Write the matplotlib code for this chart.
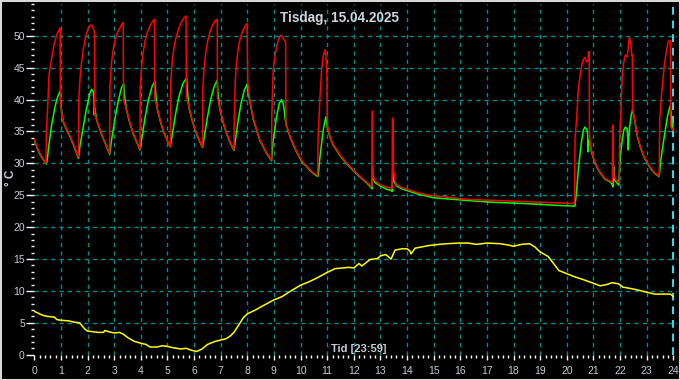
import matplotlib
matplotlib.use("Agg")
import matplotlib.pyplot as plt
from matplotlib.patches import Rectangle
from matplotlib.ticker import MultipleLocator

plt.rcParams['font.family'] = ['Liberation Sans', 'DejaVu Sans']

title = "Tisdag, 15.04.2025"
xlabel_text = "Tid [23:59]"
ylabel_text = "° C"
x_ticks = list(range(0, 25))
y_ticks = list(range(0, 55, 5))

# Red series (hours, °C)
red_t = [0, 0.1, 0.2, 0.3, 0.44,
         0.45, 0.52, 0.55, 0.62, 0.68, 0.74, 0.84, 0.94, 0.97, 0.98,
         1.03, 1.09, 1.22, 1.34, 1.47, 1.59, 1.66,
         1.67, 1.72, 1.77, 1.84, 1.90, 1.96, 2.06, 2.15, 2.21, 2.26, 2.27,
         2.34, 2.47, 2.59, 2.72, 2.83,
         2.84, 2.90, 2.96, 3.02, 3.11, 3.21, 3.31, 3.34, 3.35,
         3.46, 3.59, 3.71, 3.84, 3.97,
         3.98, 4.04, 4.10, 4.16, 4.25, 4.35, 4.45, 4.51, 4.52,
         4.62, 4.74, 4.86, 4.99, 5.11,
         5.12, 5.18, 5.25, 5.32, 5.42, 5.52, 5.62, 5.70, 5.71,
         5.81, 5.93, 6.05, 6.18, 6.32,
         6.33, 6.39, 6.45, 6.52, 6.61, 6.71, 6.80, 6.87, 6.88,
         6.98, 7.10, 7.22, 7.35, 7.50,
         7.51, 7.55, 7.60, 7.67, 7.75, 7.85, 7.95, 7.99, 8.02,
         8.10, 8.22, 8.35, 8.47, 8.60, 8.72, 8.85, 8.91,
         8.92, 8.97, 9.03, 9.10, 9.16, 9.25, 9.33, 9.39, 9.44, 9.45,
         9.48, 9.60, 9.73, 9.85, 9.98, 10.10, 10.23, 10.35, 10.48, 10.64,
         10.66, 10.73, 10.79, 10.85, 10.91, 10.95, 10.99, 11.0, 11.01,
         11.1, 11.22, 11.35, 11.47, 11.72, 11.97, 12.22, 12.47, 12.66,
         12.68, 12.69, 12.70, 12.71, 12.73, 12.79, 12.97, 13.2, 13.43,
         13.44, 13.45, 13.46, 13.48, 13.49, 13.55, 13.6, 13.8, 14.1, 14.4, 14.7,
         15.0, 15.3, 15.9, 16.5, 17.2, 18.4, 19.7, 20.29,
         20.30, 20.31, 20.37, 20.43, 20.50, 20.56, 20.62, 20.68, 20.75, 20.80,
         20.81, 20.84, 20.85, 20.88,
         20.94, 21.06, 21.19, 21.31, 21.44, 21.63, 21.71,
         21.72, 21.74, 21.75, 21.77, 21.83, 21.95, 21.97,
         21.98, 22.04, 22.08, 22.14, 22.20, 22.27, 22.31, 22.35, 22.38, 22.40,
         22.44, 22.46, 22.47,
         22.53, 22.65, 22.78, 22.90, 23.03, 23.15, 23.28, 23.47,
         23.49, 23.55, 23.62, 23.68, 23.75, 23.81, 23.87, 23.89, 23.90, 23.97, 24.0]
red_v = [33.8, 32.6, 31.6, 30.9, 30.0,
         34.4, 40.4, 43.8, 45.7, 47.2, 48.6, 50.1, 51.0, 51.2, 39.8,
         37.9, 36.6, 35.3, 34.3, 33.0, 31.7, 31.0,
         39.9, 43.5, 45.7, 47.8, 49.3, 50.4, 51.5, 51.7, 51.2, 50.6, 37.7,
         36.9, 35.3, 34.0, 32.7, 31.5,
         42.0, 45.7, 47.8, 49.0, 50.4, 51.2, 52.0, 52.1, 40.0,
         38.5, 36.4, 34.8, 33.5, 32.2,
         42.0, 45.6, 47.7, 49.2, 50.6, 51.6, 52.3, 52.6, 40.3,
         38.6, 36.6, 35.0, 33.6, 32.6,
         42.5, 46.0, 48.2, 49.7, 51.1, 52.1, 52.8, 53.1, 40.5,
         38.8, 36.8, 35.2, 33.8, 32.6,
         42.0, 45.6, 47.7, 49.3, 50.8, 51.8, 52.4, 52.6, 40.3,
         38.4, 36.4, 34.8, 33.4, 32.1,
         37.6, 43.0, 46.0, 48.3, 49.9, 51.0, 51.7, 51.9, 42.5,
         39.8, 37.1, 35.3, 33.7, 32.7, 31.7, 30.9, 30.5,
         37.3, 44.6, 46.5, 48.3, 49.3, 50.1, 49.8, 49.3, 49.0, 35.9,
         35.9, 34.3, 33.0, 31.9, 30.9, 30.1, 29.6, 29.0, 28.5, 28.1,
         34.2, 40.4, 44.6, 46.8, 47.8, 47.0, 44.0, 38.9, 36.0,
         34.3, 33.0, 32.2, 31.4, 30.1, 29.0, 28.0, 27.1, 26.4,
         26.4, 35.0, 38.2, 30.0, 28.0, 27.3, 26.7, 26.3, 26.1,
         26.1, 37.1, 37.1, 36.3, 29.0, 27.2, 26.7, 26.2, 25.8, 25.4, 25.1,
         24.9, 24.8, 24.5, 24.3, 24.2, 24.0, 23.8, 23.7,
         28.0, 33.9, 37.1, 41.5, 43.8, 45.4, 46.3, 46.6, 45.9, 46.0,
         47.5, 47.5, 35.0, 33.0,
         31.8, 30.1, 29.0, 28.3, 27.6, 27.2, 27.0,
         36.0, 36.0, 29.5, 28.0, 27.5, 27.0, 27.0,
         33.1, 38.9, 43.6, 45.9, 47.0, 46.7, 48.3, 49.9, 48.8, 49.1,
         47.0, 47.0, 38.4,
         37.4, 34.3, 32.4, 31.1, 30.1, 29.3, 28.6, 28.0,
         36.8, 40.4, 43.6, 45.9, 47.8, 49.1, 49.3, 49.0, 35.8, 35.2, 35.5]

# Green series (hours, °C)
green_t = [0, 0.1, 0.2, 0.3, 0.46, 0.50, 0.53, 0.59, 0.65, 0.72, 0.78, 0.84, 0.90, 0.97, 0.99,
           1.03, 1.09, 1.22, 1.34, 1.47, 1.59, 1.66,
           1.71, 1.84, 1.96, 2.09, 2.15, 2.21, 2.24, 2.25, 2.27, 2.34, 2.47, 2.59, 2.72, 2.83,
           2.90, 3.02, 3.15, 3.27, 3.36, 3.38, 3.46, 3.59, 3.71, 3.84, 3.97,
           4.04, 4.16, 4.29, 4.42, 4.53, 4.56, 4.62, 4.74, 4.86, 4.99, 5.11,
           5.18, 5.30, 5.43, 5.58, 5.72, 5.75, 5.81, 5.93, 6.05, 6.18, 6.32,
           6.39, 6.51, 6.63, 6.76, 6.87, 6.90, 6.98, 7.10, 7.22, 7.35, 7.50,
           7.56, 7.66, 7.77, 7.89, 7.99, 8.03, 8.10, 8.22, 8.35, 8.47, 8.60, 8.72, 8.85, 8.91,
           8.97, 9.10, 9.20, 9.29, 9.35, 9.40, 9.42, 9.45, 9.48, 9.60, 9.73, 9.85, 9.98,
           10.10, 10.23, 10.35, 10.48, 10.63,
           10.66, 10.73, 10.85, 10.95, 11.0, 11.1, 11.22, 11.35, 11.47, 11.72, 11.97, 12.22,
           12.47, 12.66,
           12.68, 12.70, 12.73, 12.79, 12.97, 13.2, 13.43,
           13.44, 13.46, 13.50, 13.6, 13.8, 14.1, 14.4, 14.7, 15.0, 15.3, 15.9, 16.5, 17.2,
           18.4, 19.7, 20.29,
           20.31, 20.37, 20.43, 20.50, 20.56, 20.62, 20.68, 20.75, 20.78, 20.80, 20.82, 20.86,
           20.94, 21.06, 21.19, 21.31, 21.44, 21.63, 21.72, 21.74, 21.76, 21.78, 21.83, 21.95,
           22.01, 22.08, 22.14, 22.20, 22.27, 22.30, 22.31, 22.33, 22.36, 22.42, 22.47, 22.53,
           22.65, 22.78, 22.90, 23.03, 23.15, 23.28, 23.47,
           23.53, 23.66, 23.78, 23.87, 23.92, 23.94, 23.97, 24.0]
green_v = [33.6, 32.5, 31.5, 30.8, 29.9, 31.0, 32.3, 34.2, 36.0, 37.6, 38.9, 39.9, 40.7, 41.3, 40.0,
           37.8, 36.5, 35.2, 34.2, 32.9, 31.6, 30.8,
           32.6, 35.7, 38.6, 41.0, 41.6, 41.3, 40.5, 37.6, 38.8, 36.8, 35.2, 33.9, 32.6, 31.4,
           33.6, 36.8, 39.7, 41.8, 42.5, 41.0, 38.4, 36.3, 34.7, 33.4, 32.1,
           34.0, 37.2, 40.0, 42.0, 42.9, 41.0, 38.5, 36.5, 34.9, 33.6, 32.6,
           34.4, 37.6, 40.4, 42.5, 43.4, 41.5, 38.7, 36.7, 35.1, 33.7, 32.5,
           34.3, 37.4, 40.1, 42.1, 43.0, 41.0, 38.3, 36.3, 34.7, 33.3, 32.0,
           33.8, 36.8, 39.5, 41.5, 42.4, 41.0, 39.7, 37.0, 35.2, 33.6, 32.6, 31.6, 30.8, 30.4,
           33.6, 37.3, 39.4, 40.0, 39.4, 38.0, 37.0, 36.5, 35.8, 34.2, 32.9, 31.8, 30.8,
           30.0, 29.5, 28.9, 28.4, 28.0,
           28.0, 31.0, 35.2, 37.3, 35.8, 34.2, 32.9, 32.1, 31.3, 30.0, 28.9, 27.9,
           27.0, 26.2,
           26.0, 29.2, 27.6, 27.0, 26.5, 26.0, 25.7,
           25.6, 28.6, 27.2, 26.5, 26.0, 25.6, 25.2, 24.9, 24.6, 24.5, 24.3, 24.1, 23.9,
           23.7, 23.4, 23.3,
           23.4, 25.8, 28.9, 31.6, 33.6, 35.2, 35.7, 35.3, 34.9, 31.8, 33.6, 33.3,
           31.6, 30.0, 28.9, 28.2, 27.5, 27.1, 26.6, 26.3, 29.5, 27.6, 27.2, 26.6,
           31.0, 33.6, 35.2, 35.7, 35.4, 33.0, 32.1, 34.0, 35.7, 37.6, 38.4, 37.3,
           34.2, 32.3, 31.0, 30.0, 29.2, 28.5, 27.9,
           30.5, 34.2, 37.3, 38.9, 38.0, 35.5, 36.5, 35.0]

# Yellow series: outdoor temperature (hours, °C)
out_t = [0, 0.1, 0.3, 0.5, 0.75, 0.85, 1.0, 1.3, 1.5, 1.7, 1.8, 1.9, 2.0, 2.2, 2.4, 2.6,
         2.65, 2.8, 3.0, 3.2, 3.35, 3.5, 3.75, 4.0, 4.2, 4.35, 4.6, 4.8, 5.0, 5.2, 5.5,
         5.7, 5.9, 6.1, 6.3, 6.5, 6.8, 7.0, 7.2, 7.35, 7.5, 7.7, 7.85, 8.0, 8.3, 8.6,
         9.0, 9.3, 9.6, 10.0, 10.3, 10.6, 11.0, 11.3, 11.6, 11.8, 12.0, 12.2, 12.3,
         12.6, 12.9, 13.0, 13.2, 13.4, 13.55, 13.8, 14.0, 14.1, 14.15, 14.3, 14.8,
         15.2, 15.5, 15.95, 16.3, 16.6, 17.0, 17.5, 17.8, 18.0, 18.3, 18.6, 18.8,
         19.0, 19.3, 19.5, 19.7, 20.0, 20.3, 20.6, 21.0, 21.25, 21.5, 21.7, 21.95,
         22.1, 22.5, 23.0, 23.3, 23.6, 23.9, 24.0]
out_v = [6.8, 6.6, 6.2, 6.0, 5.9, 5.5, 5.4, 5.3, 5.1, 5.0, 4.5, 4.0, 3.7, 3.6, 3.5, 3.5,
         3.8, 3.6, 3.4, 3.5, 3.2, 2.7, 2.1, 1.8, 1.6, 1.2, 1.2, 1.4, 1.3, 1.1, 0.9,
         1.0, 0.7, 0.5, 0.9, 1.6, 2.1, 2.3, 2.5, 2.9, 3.5, 4.8, 5.8, 6.4, 7.0, 7.7,
         8.6, 9.1, 9.9, 10.9, 11.4, 12.0, 12.9, 13.5, 13.6, 13.7, 13.6, 14.3, 13.9,
         14.9, 15.1, 15.5, 15.7, 15.0, 16.4, 16.6, 16.6, 16.3, 15.8, 16.7, 17.1,
         17.3, 17.4, 17.5, 17.5, 17.3, 17.5, 17.4, 17.2, 17.0, 17.3, 17.4, 16.9,
         16.1, 15.4, 14.3, 13.2, 12.7, 12.2, 11.8, 11.2, 10.8, 11.0, 11.3, 11.1,
         10.6, 10.3, 9.8, 9.5, 9.5, 9.5, 9.1]

now_hour = 24.0

W, H = 680, 380
fig = plt.figure(figsize=(W / 100, H / 100), dpi=100, facecolor='black')
ax = fig.add_axes([34.3 / W, 25.3 / H, 642.2 / W, 350.8 / H], facecolor='black')

grid_col = '#008C8C'
ax.set_xlim(0, 24.12)
ax.set_ylim(0, 55)
ax.set_xticks(x_ticks)
ax.set_yticks(y_ticks)
ax.xaxis.set_minor_locator(MultipleLocator(0.2))
ax.yaxis.set_minor_locator(MultipleLocator(1))

for v in x_ticks[1:-1]:
    ax.axvline(v, color=grid_col, lw=1.0, ls=(0, (3, 3)), zorder=1)
for v in y_ticks[1:]:
    ax.axhline(v, color=grid_col, lw=1.0, ls=(0, (3, 3)), zorder=1)
ax.axvline(now_hour, color='#30E0F0', lw=1.4, ls=(0, (4, 3)), zorder=1)

ax.plot(out_t, out_v, color='#FFFF00', lw=1.1, zorder=3)
ax.plot(green_t, green_v, color='#00FF00', lw=1.1, zorder=4)
ax.plot(red_t, red_v, color='#FF0000', lw=1.1, zorder=5)

for s in ax.spines.values():
    s.set_visible(False)

lab_col = '#C8CCD4'
ax.tick_params(axis='y', which='major', length=6, width=1, color='white',
               labelcolor=lab_col, labelsize=7.5, pad=0.8)
ax.tick_params(axis='y', which='minor', length=2.5, width=1, color='white')
ax.tick_params(axis='x', which='major', length=3.8, width=1, color='white',
               labelcolor=lab_col, labelsize=7.5, pad=4.2)
ax.tick_params(axis='x', which='minor', length=2.4, width=1, color='white')

fig.text(340 / W, 1 - 18.3 / H, title, color='#D0D4DC', fontsize=9.8,
         fontweight='bold', ha='center', va='center')
fig.text(359 / W, 1 - 349.3 / H, xlabel_text, color='#C8CCD4', fontsize=8,
         fontweight='bold', ha='center', va='center')
fig.text(11 / W, 1 - 178 / H, ylabel_text, color='#C8CCD4', fontsize=8.5,
         fontweight='bold', ha='center', va='center', rotation=90)

fig.patches.append(Rectangle((0, 0), 1, 1, transform=fig.transFigure,
                             fill=False, edgecolor='#D8D8D8', lw=2.2, zorder=10))

fig.savefig('out.png', dpi=100, facecolor='black')
